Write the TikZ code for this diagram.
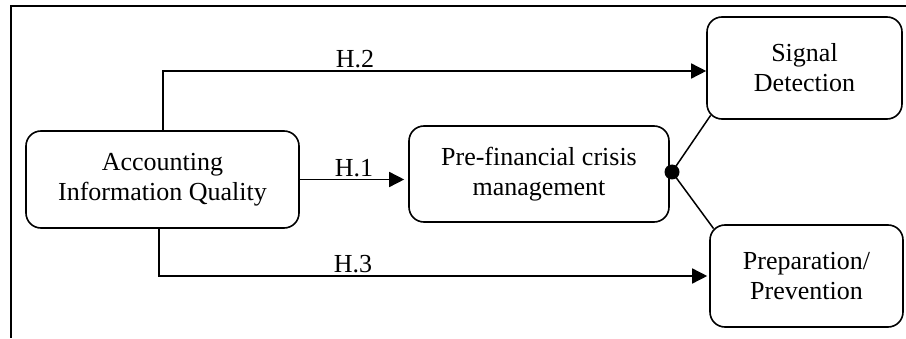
\documentclass[tikz,border=0pt]{standalone}
\usepackage{fontspec}
\setmainfont{Liberation Serif}
\usetikzlibrary{arrows.meta,calc}
\begin{document}
\begin{tikzpicture}[x=1pt,y=1pt,
  box/.style={draw,line width=1.6pt,rounded corners=15pt,align=center,
    font=\fontsize{26}{30}\selectfont,inner sep=0pt},
  conn/.style={line width=1.5pt},
  arr/.style={conn,-{Triangle[length=15pt,width=15pt]}},
  lbl/.style={font=\fontsize{26}{30}\selectfont,inner sep=0pt,anchor=base}]
\useasboundingbox (0,0) rectangle (906,338);
% frame
\coordinate (fa) at (906,332);
\coordinate (fb) at (11,332);
\coordinate (fc) at (11,0);
\draw[line width=2pt] (fa) -- (fb) -- (fc);
% nodes
\node[box,minimum width=273pt,minimum height=97pt] (acc) at (162.5,158.5) {Accounting\\Information Quality};
\node[box,minimum width=260pt,minimum height=96pt] (pre) at (539,164) {Pre-financial crisis\\management};
\node[box,minimum width=195pt,minimum height=102pt] (sig) at (804.5,270) {Signal\\Detection};
\node[box,minimum width=193pt,minimum height=102pt] (prep) at (806.5,62) {Preparation/\\Prevention};
\coordinate (dot) at (672,166);
\coordinate (sigc) at ($(sig.south west)+(4.4pt,4.4pt)$);
\coordinate (prepc) at ($(prep.north west)+(4.4pt,-4.4pt)$);
% connectors
\draw[arr,shorten >=4pt] (acc.east) -- (acc.east -| pre.west);
\draw[arr] ([xshift=0.5pt]acc.north) |- ([yshift=-3pt]sig.west);
\draw[arr,shorten >=2pt] ([xshift=-3.5pt]acc.south) |- (prep.west);
\draw[conn] (dot) -- (sigc);
\draw[conn] (dot) -- (prepc);
\fill (dot) circle (7.5pt);
% labels
\node[lbl] (h1) at (354,161) {H.1};
\node[lbl] (h2) at (355,270) {H.2};
\node[lbl] (h3) at (353,66) {H.3};
\end{tikzpicture}
\end{document}
